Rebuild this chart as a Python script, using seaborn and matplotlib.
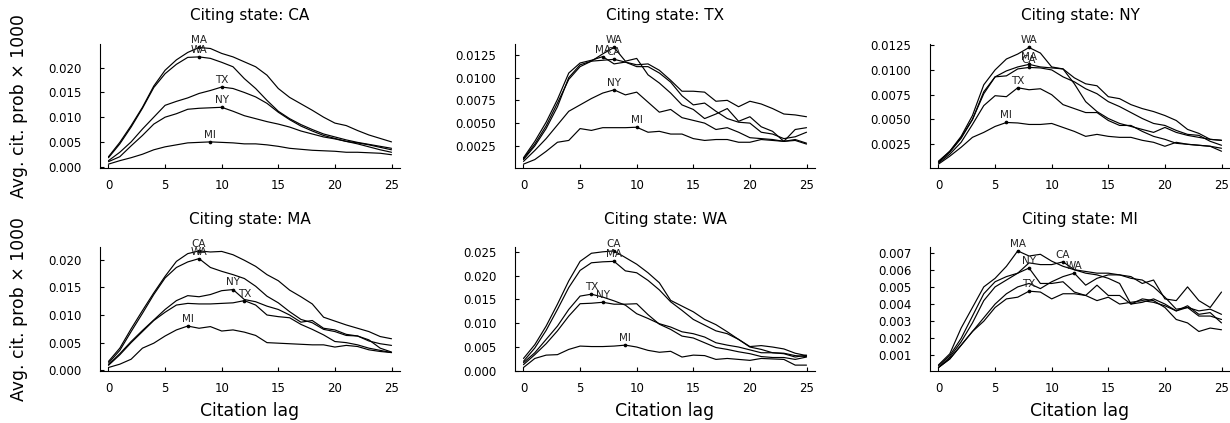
import numpy as np
import pandas as pd
import matplotlib
matplotlib.use("Agg")
import matplotlib.pyplot as plt
from matplotlib.ticker import MaxNLocator
import seaborn as sns

lags = list(range(26))
citing_order = ["CA", "TX", "NY", "MA", "WA", "MI"]

# ---- Citing state: CA ----
CA_MA = [0.0020, 0.0049, 0.0083, 0.0120, 0.0163, 0.0195, 0.0216, 0.0231, 0.0241, 0.0239, 0.0229, 0.0222, 0.0212, 0.0202, 0.0185, 0.0158, 0.0140, 0.0127, 0.0114, 0.0100, 0.0088, 0.0083, 0.0073, 0.0064, 0.0057, 0.0050]
CA_WA = [0.0018, 0.0046, 0.0080, 0.0118, 0.0160, 0.0188, 0.0207, 0.0221, 0.0222, 0.0219, 0.0211, 0.0202, 0.0178, 0.0158, 0.0134, 0.0112, 0.0097, 0.0085, 0.0075, 0.0066, 0.0060, 0.0054, 0.0049, 0.0045, 0.0041, 0.0037]
CA_TX = [0.0012, 0.0029, 0.0050, 0.0076, 0.0100, 0.0124, 0.0132, 0.0139, 0.0148, 0.0154, 0.0161, 0.0158, 0.0150, 0.0141, 0.0128, 0.0110, 0.0095, 0.0082, 0.0072, 0.0063, 0.0057, 0.0051, 0.0046, 0.0040, 0.0034, 0.0029]
CA_NY = [0.0010, 0.0020, 0.0042, 0.0063, 0.0086, 0.0100, 0.0107, 0.0116, 0.0118, 0.0119, 0.0120, 0.0112, 0.0103, 0.0097, 0.0091, 0.0086, 0.0080, 0.0072, 0.0066, 0.0060, 0.0056, 0.0051, 0.0048, 0.0044, 0.0039, 0.0034]
CA_MI = [0.0005, 0.0012, 0.0018, 0.0025, 0.0034, 0.0040, 0.0044, 0.0048, 0.0049, 0.0050, 0.0049, 0.0048, 0.0046, 0.0046, 0.0044, 0.0041, 0.0037, 0.0035, 0.0033, 0.0032, 0.0031, 0.0029, 0.0029, 0.0028, 0.0027, 0.0024]

# ---- Citing state: TX ----
TX_WA = [0.0011, 0.0027, 0.0047, 0.0072, 0.0098, 0.0112, 0.0118, 0.0126, 0.0133, 0.0118, 0.0121, 0.0103, 0.0094, 0.0083, 0.0070, 0.0065, 0.0055, 0.0060, 0.0066, 0.0052, 0.0057, 0.0046, 0.0041, 0.0030, 0.0043, 0.0045]
TX_MA = [0.0012, 0.0030, 0.0051, 0.0076, 0.0105, 0.0116, 0.0119, 0.0123, 0.0115, 0.0117, 0.0112, 0.0112, 0.0105, 0.0095, 0.0080, 0.0070, 0.0072, 0.0063, 0.0055, 0.0051, 0.0050, 0.0040, 0.0038, 0.0033, 0.0035, 0.0040]
TX_CA = [0.0010, 0.0025, 0.0044, 0.0068, 0.0100, 0.0114, 0.0118, 0.0119, 0.0120, 0.0117, 0.0114, 0.0115, 0.0108, 0.0097, 0.0085, 0.0085, 0.0084, 0.0074, 0.0075, 0.0068, 0.0074, 0.0071, 0.0066, 0.0060, 0.0059, 0.0057]
TX_NY = [0.0008, 0.0020, 0.0033, 0.0048, 0.0063, 0.0070, 0.0077, 0.0083, 0.00865, 0.0081, 0.0084, 0.0073, 0.0062, 0.0065, 0.0056, 0.0053, 0.0050, 0.0043, 0.0045, 0.0040, 0.0034, 0.0033, 0.0032, 0.0030, 0.0032, 0.0028]
TX_MI = [0.0005, 0.0010, 0.0019, 0.0029, 0.0031, 0.0044, 0.0042, 0.0045, 0.0045, 0.0045, 0.00455, 0.0040, 0.0041, 0.0038, 0.0038, 0.0033, 0.0031, 0.0032, 0.0032, 0.0029, 0.0029, 0.0032, 0.0031, 0.0030, 0.0031, 0.0027]

# ---- Citing state: NY ----
NY_WA = [0.0008, 0.0018, 0.0033, 0.0054, 0.0085, 0.0100, 0.0111, 0.0116, 0.01226, 0.0117, 0.0103, 0.0101, 0.0086, 0.0068, 0.0058, 0.0051, 0.0046, 0.0043, 0.0040, 0.0037, 0.0042, 0.0037, 0.0034, 0.0032, 0.0030, 0.0029]
NY_MA = [0.0007, 0.0017, 0.0031, 0.0050, 0.0078, 0.0093, 0.0099, 0.0103, 0.01056, 0.0103, 0.0102, 0.0101, 0.0092, 0.0086, 0.0084, 0.0073, 0.0071, 0.0065, 0.0061, 0.0058, 0.0054, 0.0049, 0.0040, 0.0036, 0.0030, 0.0029]
NY_CA = [0.0007, 0.0018, 0.0032, 0.0050, 0.0076, 0.0093, 0.0094, 0.0101, 0.01025, 0.0102, 0.0100, 0.0093, 0.0088, 0.0081, 0.0076, 0.0068, 0.0063, 0.0057, 0.0051, 0.0046, 0.0044, 0.0039, 0.0035, 0.0034, 0.0028, 0.0024]
NY_TX = [0.0006, 0.0015, 0.0027, 0.0045, 0.0064, 0.0074, 0.0073, 0.0082, 0.0080, 0.0081, 0.0075, 0.0065, 0.0061, 0.0057, 0.0057, 0.0049, 0.0044, 0.0044, 0.0038, 0.0033, 0.0030, 0.0026, 0.0025, 0.0024, 0.0023, 0.0021]
NY_MI = [0.0005, 0.0013, 0.0022, 0.0032, 0.0037, 0.0043, 0.0047, 0.00465, 0.0045, 0.0045, 0.0046, 0.0042, 0.0038, 0.0033, 0.0035, 0.0033, 0.0032, 0.0032, 0.0029, 0.0027, 0.0023, 0.0027, 0.0025, 0.0024, 0.0023, 0.0018]

# ---- Citing state: MA ----
MA_CA = [0.0016, 0.0040, 0.0075, 0.0108, 0.0140, 0.0170, 0.0197, 0.0211, 0.0216, 0.0214, 0.0215, 0.0209, 0.0199, 0.0188, 0.0173, 0.0162, 0.0145, 0.0133, 0.0120, 0.0096, 0.0089, 0.0082, 0.0076, 0.0070, 0.0061, 0.0057]
MA_WA = [0.0013, 0.0036, 0.0070, 0.0103, 0.0137, 0.0167, 0.0186, 0.0196, 0.0202, 0.0186, 0.0179, 0.0173, 0.0166, 0.0152, 0.0134, 0.0122, 0.0106, 0.0092, 0.0086, 0.0074, 0.0070, 0.0063, 0.0062, 0.0053, 0.0048, 0.0045]
MA_NY = [0.0010, 0.0030, 0.0052, 0.0072, 0.0091, 0.0110, 0.0126, 0.0135, 0.0133, 0.0137, 0.0144, 0.0146, 0.0128, 0.0124, 0.0116, 0.0110, 0.0100, 0.0087, 0.0090, 0.0076, 0.0073, 0.0065, 0.0062, 0.0055, 0.0040, 0.0033]
MA_TX = [0.0009, 0.0028, 0.0050, 0.0070, 0.0090, 0.0105, 0.0118, 0.0121, 0.0120, 0.0120, 0.0121, 0.0122, 0.0126, 0.0118, 0.0100, 0.0097, 0.0095, 0.0083, 0.0074, 0.0064, 0.0052, 0.0050, 0.0046, 0.0040, 0.0036, 0.0032]
MA_MI = [0.0005, 0.0011, 0.0020, 0.0040, 0.0049, 0.0062, 0.0073, 0.0080, 0.0076, 0.0079, 0.0071, 0.0073, 0.0069, 0.0063, 0.0050, 0.0049, 0.0048, 0.0047, 0.0046, 0.0046, 0.0042, 0.0045, 0.0043, 0.0037, 0.0034, 0.0032]

# ---- Citing state: WA ----
WA_CA = [0.0026, 0.0055, 0.0094, 0.0140, 0.0189, 0.0230, 0.0247, 0.0250, 0.0252, 0.0238, 0.0224, 0.0206, 0.0185, 0.0148, 0.0136, 0.0124, 0.0108, 0.0097, 0.0082, 0.0066, 0.0051, 0.0053, 0.0050, 0.0046, 0.0037, 0.0032]
WA_MA = [0.0020, 0.0048, 0.0085, 0.0129, 0.0175, 0.0211, 0.0227, 0.0229, 0.0230, 0.0210, 0.0206, 0.0190, 0.0170, 0.0145, 0.0127, 0.0108, 0.0096, 0.0084, 0.0078, 0.0066, 0.0050, 0.0045, 0.0038, 0.0037, 0.0032, 0.0030]
WA_TX = [0.0017, 0.0038, 0.0066, 0.0094, 0.0129, 0.0157, 0.0161, 0.0155, 0.0147, 0.0138, 0.0120, 0.0110, 0.0099, 0.0092, 0.0082, 0.0078, 0.0071, 0.0059, 0.0054, 0.0050, 0.0044, 0.0038, 0.0038, 0.0036, 0.0029, 0.0033]
WA_NY = [0.0013, 0.0034, 0.0057, 0.0084, 0.0115, 0.0141, 0.0142, 0.0144, 0.0140, 0.0140, 0.0141, 0.0118, 0.0098, 0.0087, 0.0073, 0.0069, 0.0059, 0.0049, 0.0045, 0.0040, 0.0036, 0.0030, 0.0028, 0.0028, 0.0024, 0.0029]
WA_MI = [0.0007, 0.0026, 0.0033, 0.0034, 0.0045, 0.0052, 0.0051, 0.0051, 0.0052, 0.0054, 0.0050, 0.0043, 0.0039, 0.0041, 0.0029, 0.0033, 0.0032, 0.0024, 0.0026, 0.0024, 0.0022, 0.0026, 0.0025, 0.0024, 0.0012, 0.0012]

# ---- Citing state: MI ----
MI_MA = [0.00045, 0.0011, 0.0026, 0.0038, 0.0050, 0.0055, 0.0062, 0.0071, 0.0068, 0.0069, 0.0065, 0.0062, 0.0060, 0.0058, 0.0057, 0.0055, 0.0052, 0.0040, 0.0041, 0.0043, 0.0040, 0.0036, 0.0038, 0.0036, 0.0037, 0.0034]
MI_CA = [0.0004, 0.0010, 0.0020, 0.0033, 0.0046, 0.0053, 0.0056, 0.0058, 0.0064, 0.0063, 0.0063, 0.00646, 0.0060, 0.0059, 0.0058, 0.0058, 0.0057, 0.0055, 0.0054, 0.0050, 0.0044, 0.0037, 0.0038, 0.0033, 0.0033, 0.0031]
MI_NY = [0.0003, 0.0009, 0.0018, 0.0029, 0.0042, 0.0050, 0.0054, 0.0058, 0.0061, 0.0052, 0.0052, 0.0053, 0.0047, 0.0045, 0.0051, 0.0045, 0.0045, 0.0040, 0.0043, 0.0042, 0.0038, 0.0031, 0.0029, 0.0024, 0.0026, 0.0025]
MI_WA = [0.0003, 0.0008, 0.0016, 0.0024, 0.0032, 0.0040, 0.0046, 0.0050, 0.0052, 0.0049, 0.0053, 0.0056, 0.0058, 0.0051, 0.0055, 0.0057, 0.0057, 0.0056, 0.0052, 0.0054, 0.0043, 0.0042, 0.0050, 0.0042, 0.0038, 0.0047]
MI_TX = [0.0003, 0.0008, 0.0016, 0.0024, 0.0030, 0.0038, 0.0043, 0.0044, 0.00475, 0.0047, 0.0043, 0.0046, 0.0046, 0.0045, 0.0042, 0.0044, 0.0040, 0.0041, 0.0042, 0.0041, 0.0039, 0.0036, 0.0039, 0.0034, 0.0035, 0.0029]

series = {
    "CA": {"MA": CA_MA, "WA": CA_WA, "TX": CA_TX, "NY": CA_NY, "MI": CA_MI},
    "TX": {"WA": TX_WA, "MA": TX_MA, "CA": TX_CA, "NY": TX_NY, "MI": TX_MI},
    "NY": {"WA": NY_WA, "MA": NY_MA, "CA": NY_CA, "TX": NY_TX, "MI": NY_MI},
    "MA": {"CA": MA_CA, "WA": MA_WA, "NY": MA_NY, "TX": MA_TX, "MI": MA_MI},
    "WA": {"CA": WA_CA, "MA": WA_MA, "TX": WA_TX, "NY": WA_NY, "MI": WA_MI},
    "MI": {"MA": MI_MA, "CA": MI_CA, "NY": MI_NY, "WA": MI_WA, "TX": MI_TX},
}

rows = []
for citing, d in series.items():
    for cited, vals in d.items():
        for lag, v in zip(lags, vals):
            rows.append({"citing": citing, "cited": cited, "lag": lag, "prob": v})
df = pd.DataFrame(rows)

sns.set_style("ticks")
plt.rcParams.update({
    "font.family": ["DejaVu Sans"],
    "text.color": "black",
    "axes.labelcolor": "black",
    "axes.titlecolor": "black",
    "axes.xmargin": 0.03,
    "axes.ymargin": 0.03,
    "xtick.direction": "in",
    "ytick.direction": "in",
    "xtick.major.size": 3,
    "ytick.major.size": 3,
    "xtick.major.width": 0.8,
    "ytick.major.width": 0.8,
    "axes.linewidth": 0.8,
    "axes.edgecolor": "black",
    "xtick.color": "black",
    "ytick.color": "black",
    "xtick.labelcolor": "black",
    "ytick.labelcolor": "black",
    "xtick.labelsize": 8.5,
    "ytick.labelsize": 8.5,
    "xtick.major.pad": 8,
    "ytick.major.pad": 13.5,
})

fig, axes = plt.subplots(2, 3, figsize=(12.3, 4.23), dpi=100)
fig.subplots_adjust(left=100/1230, right=1.0, bottom=1-371/423, top=1-44/423,
                    wspace=115/300, hspace=80/124)

for ax, citing in zip(axes.flat, citing_order):
    sub = df[df["citing"] == citing]
    sns.lineplot(data=sub, x="lag", y="prob", units="cited", estimator=None,
                 color="black", linewidth=0.85, ax=ax, legend=False)
    peaks = sub.loc[sub.groupby("cited", sort=False)["prob"].idxmax()]
    sns.scatterplot(data=peaks, x="lag", y="prob", color="black", s=7,
                    linewidth=0, ax=ax, legend=False, zorder=3)
    for _, r in peaks.iterrows():
        ax.annotate(r["cited"], (r["lag"], r["prob"]), xytext=(0, 1.5),
                    textcoords="offset points", ha="center", va="bottom",
                    fontsize=7.5, color="#222222")
    ax.set_title(f"Citing state: {citing}", fontsize=11, pad=17)
    ax.set_xticks([0, 5, 10, 15, 20, 25])
    ax.yaxis.set_major_locator(MaxNLocator(nbins=8, steps=[1, 2.5, 5, 10]))
    ax.set_xlabel("")
    ax.set_ylabel("")
    sns.despine(ax=ax)

for ax in axes[:, 0]:
    ax.set_ylabel("Avg. cit. prob × 1000", fontsize=12.4)
    ax.yaxis.set_label_coords(-0.24, 0.5)
for ax in axes[1, :]:
    ax.set_xlabel("Citation lag", fontsize=12.4)
    ax.xaxis.set_label_coords(0.5, -0.25)

fig.savefig("out.png", dpi=100)
